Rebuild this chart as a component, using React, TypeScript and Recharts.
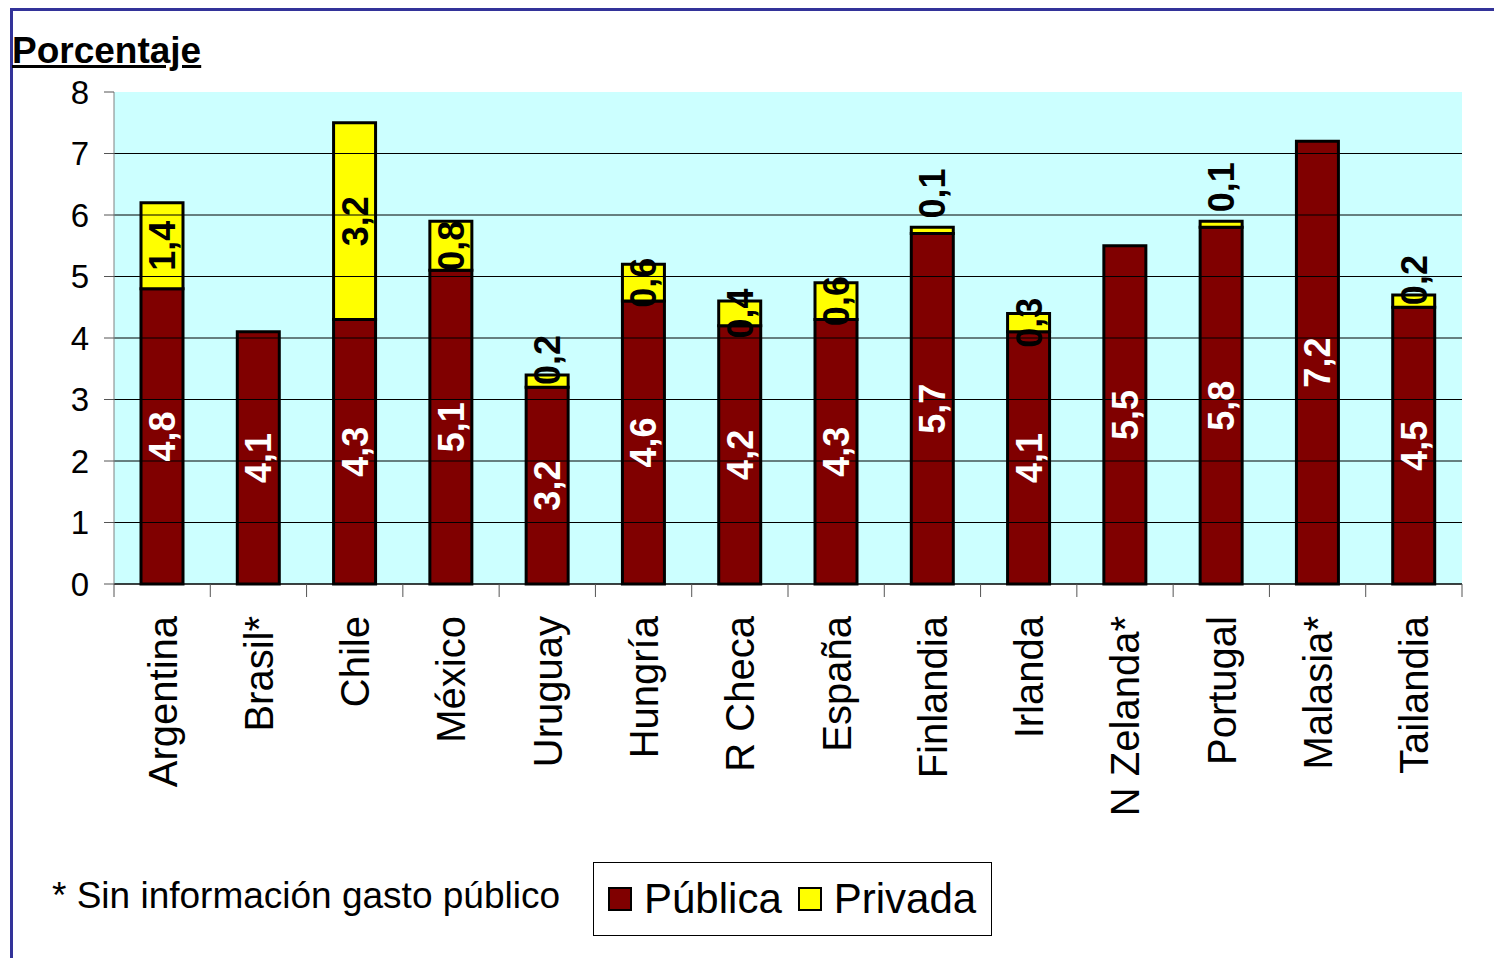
import React from "react";
import {
  Bar,
  BarChart,
  CartesianGrid,
  LabelList,
  ReferenceLine,
  XAxis,
  YAxis,
} from "recharts";

const paises = [
  "Argentina",
  "Brasil*",
  "Chile",
  "México",
  "Uruguay",
  "Hungría",
  "R Checa",
  "España",
  "Finlandia",
  "Irlanda",
  "N Zelanda*",
  "Portugal",
  "Malasia*",
  "Tailandia",
];
const publica = [4.8, 4.1, 4.3, 5.1, 3.2, 4.6, 4.2, 4.3, 5.7, 4.1, 5.5, 5.8, 7.2, 4.5];
const privada = [1.4, null, 3.2, 0.8, 0.2, 0.6, 0.4, 0.6, 0.1, 0.3, null, 0.1, null, 0.2];
const yTicks = [0, 1, 2, 3, 4, 5, 6, 7, 8];

const data = paises.map((pais, i) => ({
  pais,
  publica: publica[i],
  privada: privada[i],
}));

const W = 1494;
const H = 958;
const PLOT_LEFT = 114;
const PLOT_RIGHT = 1462;
const PLOT_TOP = 92;
const PLOT_BOTTOM = 584;
const BAND = (PLOT_RIGHT - PLOT_LEFT) / paises.length;
const FONT = '"Liberation Sans", Arial, sans-serif';

const fmt = (v: number) => v.toFixed(1).replace(".", ",");

const CountryTick = (props: any) => {
  const { x, y, payload, index } = props;
  return (
    <g>
      <line x1={x - BAND / 2} x2={x - BAND / 2} y1={y} y2={y + 13} stroke="#555" />
      {index === paises.length - 1 && (
        <line x1={x + BAND / 2} x2={x + BAND / 2} y1={y} y2={y + 13} stroke="#555" />
      )}
      <text
        x={x}
        y={y + 32}
        transform={`rotate(-90, ${x}, ${y + 32})`}
        textAnchor="end"
        dy="0.36em"
        fontSize={40}
        fontFamily={FONT}
        fill="#000"
      >
        {payload.value}
      </text>
    </g>
  );
};

const makeLabel = (color: string, shiftSmall: boolean) => (props: any) => {
  const { x, y, width, height, value } = props;
  if (value === null || value === undefined || value === "") return null;
  const h = Math.abs(Number(height));
  let cy = Number(y) + Number(height) / 2;
  if (shiftSmall) {
    if (h < 10) cy -= 37;
    else if (h < 15) cy -= 21;
  }
  const cx = Number(x) + Number(width) / 2;
  return (
    <text
      x={cx}
      y={cy}
      transform={`rotate(-90, ${cx}, ${cy})`}
      textAnchor="middle"
      dy="0.36em"
      fontSize={36}
      fontWeight="bold"
      fontFamily={FONT}
      fill={color}
    >
      {fmt(Number(value))}
    </text>
  );
};

const Swatch = ({ color }: { color: string }) => (
  <span
    style={{
      display: "inline-block",
      width: 20,
      height: 20,
      background: color,
      border: "2px solid #000",
    }}
  />
);

export default function App() {
  return (
    <div
      style={{
        position: "absolute",
        left: 0,
        top: 0,
        width: W,
        height: H,
        background: "#fff",
        fontFamily: FONT,
        overflow: "hidden",
      }}
    >
      <div style={{ position: "absolute", left: 10, top: 8, width: W - 10, height: 3, background: "#333399" }} />
      <div style={{ position: "absolute", left: 10, top: 8, width: 3, height: H - 8, background: "#333399" }} />

      <div
        style={{
          position: "absolute",
          left: 12,
          top: 32,
          fontSize: 37,
          fontWeight: "bold",
          lineHeight: 1,
          textDecoration: "underline",
          color: "#000",
        }}
      >
        Porcentaje
      </div>

      <div style={{ position: "absolute", left: 0, top: 0 }}>
        <BarChart
          width={W}
          height={H}
          data={data}
          margin={{ top: PLOT_TOP, right: W - PLOT_RIGHT, left: PLOT_LEFT - 60, bottom: H - PLOT_BOTTOM - 300 }}
        >
          <CartesianGrid fill="#CCFFFF" horizontal={false} vertical={false} />
          {yTicks
            .filter((t) => t > 0 && t < 8)
            .map((t) => (
              <ReferenceLine key={t} y={t} stroke="#000" strokeWidth={1} />
            ))}
          <XAxis
            dataKey="pais"
            interval={0}
            height={300}
            tickSize={0}
            tickMargin={0}
            tickLine={false}
            axisLine={{ stroke: "#000", strokeWidth: 1.5 }}
            tick={<CountryTick />}
          />
          <YAxis
            width={60}
            domain={[0, 8]}
            ticks={yTicks}
            interval={0}
            tickSize={10}
            tickMargin={15}
            axisLine={{ stroke: "#808080" }}
            tickLine={{ stroke: "#555" }}
            tick={{ fontSize: 33, fill: "#000", fontFamily: FONT }}
          />
          <Bar
            dataKey="publica"
            name="Pública"
            stackId="a"
            fill="#800000"
            stroke="#000"
            strokeWidth={3}
            barSize={42}
            isAnimationActive={false}
          >
            <LabelList dataKey="publica" content={makeLabel("#fff", false)} />
          </Bar>
          <Bar
            dataKey="privada"
            name="Privada"
            stackId="a"
            fill="#FFFF00"
            stroke="#000"
            strokeWidth={3}
            barSize={42}
            isAnimationActive={false}
          >
            <LabelList dataKey="privada" content={makeLabel("#000", true)} />
          </Bar>
        </BarChart>
      </div>

      <div
        style={{
          position: "absolute",
          left: 52,
          top: 877,
          fontSize: 37,
          lineHeight: 1,
          color: "#000",
          whiteSpace: "nowrap",
        }}
      >
        * Sin información gasto público
      </div>

      <div
        style={{
          position: "absolute",
          left: 593,
          top: 862,
          width: 399,
          height: 74,
          boxSizing: "border-box",
          border: "1px solid #000",
          display: "flex",
          alignItems: "center",
          paddingLeft: 14,
          fontSize: 42,
          color: "#000",
          whiteSpace: "nowrap",
        }}
      >
        <Swatch color="#800000" />
        <span style={{ marginLeft: 12, marginRight: 16 }}>Pública</span>
        <Swatch color="#FFFF00" />
        <span style={{ marginLeft: 12 }}>Privada</span>
      </div>
    </div>
  );
}
